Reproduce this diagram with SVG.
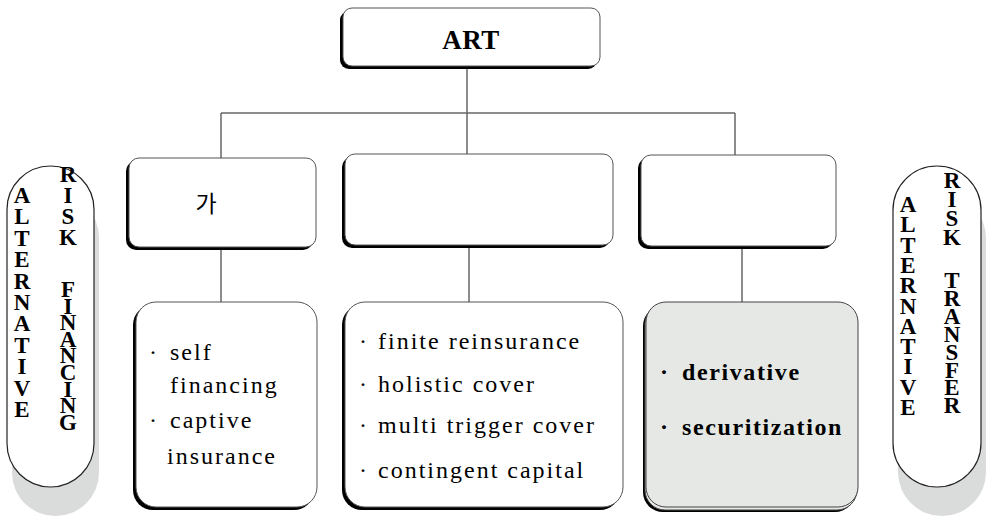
<svg xmlns="http://www.w3.org/2000/svg" width="987" height="516" viewBox="0 0 987 516">
<style>
.sh{fill:#000}
.bx{fill:#fff;stroke:#555;stroke-width:1}
.gb{fill:#e5e8e5;stroke:#444;stroke-width:1}
.ln{stroke:#666;stroke-width:1.5;fill:none}
.pill{fill:#fff;stroke:#222;stroke-width:1.2}
.psh{fill:#d9dcda}
.t{font-family:"Liberation Serif","Times New Roman",serif;fill:#000;font-size:24px;letter-spacing:2px}
.tb{font-family:"Liberation Serif","Times New Roman",serif;fill:#000;font-size:24px;font-weight:bold;letter-spacing:1.6px}
.pl{font-family:"Liberation Serif","Times New Roman",serif;fill:#000;font-size:23px;font-weight:bold;text-anchor:middle}
</style>

<g id="connectors">
  <line class="ln" x1="467" y1="66" x2="467" y2="154"/>
  <line class="ln" x1="221" y1="113" x2="735" y2="113"/>
  <line class="ln" x1="221" y1="113" x2="221" y2="158"/>
  <line class="ln" x1="735" y1="113" x2="735" y2="155"/>
  <line class="ln" x1="221" y1="250" x2="221" y2="302"/>
  <line class="ln" x1="469" y1="248" x2="469" y2="302"/>
  <line class="ln" x1="742" y1="249" x2="742" y2="302"/>
</g>

<g id="art">
  <rect class="sh" x="340" y="11" width="257" height="58" rx="9"/>
  <rect class="bx" x="343" y="8" width="257" height="58" rx="9"/>
  <text x="471" y="49" text-anchor="middle" style="font-family:'Liberation Serif',serif;font-weight:bold;font-size:27px;letter-spacing:0.5px;fill:#000">ART</text>
</g>

<g id="cat1">
  <rect class="sh" x="126" y="161" width="187" height="89" rx="10"/>
  <rect class="bx" x="129" y="158" width="187" height="89" rx="10"/>
  <text x="206" y="212" text-anchor="middle" style="font-family:'Noto Sans CJK KR','Noto Sans',sans-serif;font-size:23px;fill:#000">가</text>
</g>

<g id="cat2">
  <rect class="sh" x="342" y="157" width="268" height="91" rx="10"/>
  <rect class="bx" x="345" y="154" width="268" height="91" rx="10"/>
</g>

<g id="cat3">
  <rect class="sh" x="638" y="158" width="195" height="91" rx="10"/>
  <rect class="bx" x="641" y="155" width="195" height="91" rx="10"/>
</g>

<g id="list1">
  <rect class="sh" x="133" y="305" width="181" height="205" rx="20"/>
  <rect class="bx" x="136" y="302" width="181" height="205" rx="20"/>
  <text class="t" x="149" y="360">·</text>
  <text class="t" x="170" y="360">self</text>
  <text class="t" x="170" y="393">financing</text>
  <text class="t" x="149" y="428">·</text>
  <text class="t" x="170" y="428">captive</text>
  <text class="t" x="167" y="464">insurance</text>
</g>

<g id="list2">
  <rect class="sh" x="342" y="305" width="278" height="205" rx="20"/>
  <rect class="bx" x="345" y="302" width="278" height="205" rx="20"/>
  <text class="t" x="359" y="349">·</text>
  <text class="t" x="378" y="349">finite reinsurance</text>
  <text class="t" x="359" y="392">·</text>
  <text class="t" x="378" y="392">holistic cover</text>
  <text class="t" x="359" y="433">·</text>
  <text class="t" x="378" y="433">multi trigger cover</text>
  <text class="t" x="359" y="478">·</text>
  <text class="t" x="378" y="478">contingent capital</text>
</g>

<g id="list3">
  <rect class="sh" x="643" y="306" width="212" height="206" rx="20"/>
  <rect class="gb" x="645" y="304" width="212" height="206" rx="20"/>
  <rect class="gb" x="646" y="302" width="212" height="205" rx="20"/>
  <text class="tb" x="660" y="380">·</text>
  <text class="tb" x="682" y="380">derivative</text>
  <text class="tb" x="660" y="435">·</text>
  <text class="tb" x="682" y="435">securitization</text>
</g>

<g id="pill-left">
  <rect class="psh" x="12" y="194" width="87" height="322" rx="43.5"/>
  <rect class="pill" x="7" y="166" width="87" height="321" rx="43.5"/>
  <text class="pl"><tspan x="22" y="203">A</tspan><tspan x="22" y="224.4">L</tspan><tspan x="22" y="245.8">T</tspan><tspan x="22" y="267.2">E</tspan><tspan x="22" y="288.6">R</tspan><tspan x="22" y="310">N</tspan><tspan x="22" y="331.4">A</tspan><tspan x="22" y="352.8">T</tspan><tspan x="22" y="374.2">I</tspan><tspan x="22" y="395.6">V</tspan><tspan x="22" y="417">E</tspan></text>
  <text class="pl"><tspan x="68" y="182">R</tspan><tspan x="68" y="203">I</tspan><tspan x="68" y="224">S</tspan><tspan x="68" y="245">K</tspan><tspan x="68" y="297">F</tspan><tspan x="68" y="313.6">I</tspan><tspan x="68" y="330.2">N</tspan><tspan x="68" y="346.8">A</tspan><tspan x="68" y="363.4">N</tspan><tspan x="68" y="380">C</tspan><tspan x="68" y="396.6">I</tspan><tspan x="68" y="413.2">N</tspan><tspan x="68" y="429.8">G</tspan></text>
</g>

<g id="pill-right">
  <rect class="psh" x="898" y="194" width="88" height="322" rx="44"/>
  <rect class="pill" x="893" y="166" width="88" height="321" rx="44"/>
  <text class="pl"><tspan x="908" y="212">A</tspan><tspan x="908" y="232.3">L</tspan><tspan x="908" y="252.6">T</tspan><tspan x="908" y="272.9">E</tspan><tspan x="908" y="293.2">R</tspan><tspan x="908" y="313.5">N</tspan><tspan x="908" y="333.8">A</tspan><tspan x="908" y="354.1">T</tspan><tspan x="908" y="374.4">I</tspan><tspan x="908" y="394.7">V</tspan><tspan x="908" y="415">E</tspan></text>
  <text class="pl"><tspan x="952" y="188">R</tspan><tspan x="952" y="207">I</tspan><tspan x="952" y="226">S</tspan><tspan x="952" y="245">K</tspan><tspan x="952" y="288">T</tspan><tspan x="952" y="305.9">R</tspan><tspan x="952" y="323.8">A</tspan><tspan x="952" y="341.7">N</tspan><tspan x="952" y="359.6">S</tspan><tspan x="952" y="377.5">F</tspan><tspan x="952" y="395.4">E</tspan><tspan x="952" y="413.3">R</tspan></text>
</g>
</svg>
